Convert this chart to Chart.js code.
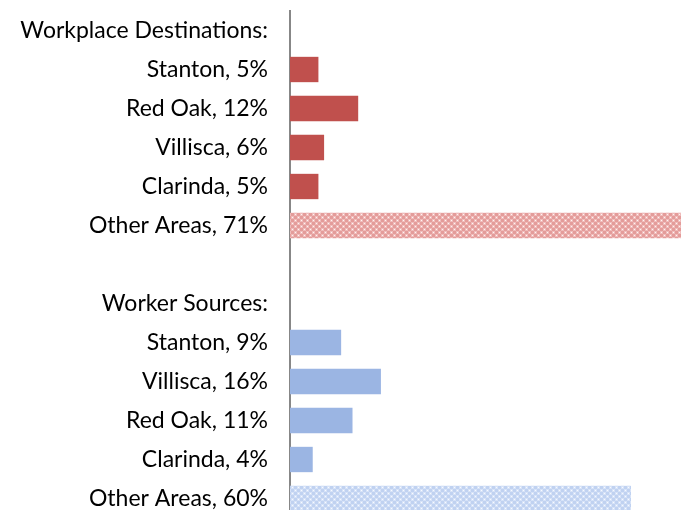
<!DOCTYPE html>
<html>
<head>
<meta charset="utf-8">
<script src="https://cdn.jsdelivr.net/npm/chart.js@4/dist/chart.umd.min.js"></script>
<style>
  html, body { margin: 0; padding: 0; background: #fff; overflow: hidden; }
  #wrap { width: 681px; height: 518px; }
</style>
</head>
<body>
<div id="wrap"><canvas id="commute"></canvas></div>
<script>
// commuting shares, in percent
const destHeader = 'Workplace Destinations:';
const destPlaces = ['Stanton', 'Red Oak', 'Villisca', 'Clarinda', 'Other Areas'];
const destShares = [5, 12, 6, 5, 71];

const sourceHeader = 'Worker Sources:';
const sourcePlaces = ['Stanton', 'Villisca', 'Red Oak', 'Clarinda', 'Other Areas'];
const sourceShares = [9, 16, 11, 4, 60];

const red = '#C0504D';
const blue = '#9BB5E3';

// small checkered fill used for the "Other Areas" bars
function checker(dark, light, dot) {
    var c = document.createElement('canvas');
    c.width = 6; c.height = 6;
    var g = c.getContext('2d');
    g.fillStyle = light; g.fillRect(0, 0, 6, 6);
    g.fillStyle = dark;
    g.fillRect(0, 0, 3, 3);
    g.fillRect(3, 3, 3, 3);
    g.fillStyle = dot;
    g.fillRect(4, 1, 1, 1);
    g.fillRect(1, 4, 1, 1);
    return g.createPattern(c, 'repeat');
}

var labels = [destHeader];
var values = [null];
var colors = ['rgba(0,0,0,0)'];
destPlaces.forEach((p, i) => {
    labels.push(`${p}, ${destShares[i]}%`);
    values.push(destShares[i]);
    colors.push(p === 'Other Areas' ? checker('#E49C9A', '#EFBCBB', '#FFF4F4') : red);
});
labels.push('', sourceHeader);
values.push(null, null);
colors.push('rgba(0,0,0,0)', 'rgba(0,0,0,0)');
sourcePlaces.forEach((p, i) => {
    labels.push(`${p}, ${sourceShares[i]}%`);
    values.push(sourceShares[i]);
    colors.push(p === 'Other Areas' ? checker('#C0D2F1', '#D6E2F7', '#F7FAFF') : blue);
});

var ctx = document.getElementById('commute').getContext('2d');
new Chart(ctx, {
    type: 'bar',
    data: {
        labels: labels,
        datasets: [{
            data: values,
            backgroundColor: colors,
            borderWidth: 0,
            categoryPercentage: 1,
            barPercentage: 0.65
        }]
    },
    options: {
        indexAxis: 'y',
        responsive: true,
        maintainAspectRatio: false,
        animation: false,
        layout: { padding: { top: 11, left: 0, right: 0, bottom: 0 } },
        plugins: {
            legend: { display: false },
            tooltip: { enabled: false }
        },
        scales: {
            x: {
                display: false,
                min: 0,
                max: 68.8
            },
            y: {
                afterFit: function (scale) {
                    scale.width = 290;
                    // no extra room above/below the first and last rows
                    scale.paddingTop = 0;
                    scale.paddingBottom = 0;
                },
                grid: { display: false, drawTicks: false },
                border: { display: true, color: '#878787', width: 2 },
                ticks: {
                    color: '#000',
                    padding: 22,
                    font: { family: 'Lato', size: 23 }
                }
            }
        }
    }
});
</script>
</body>
</html>
